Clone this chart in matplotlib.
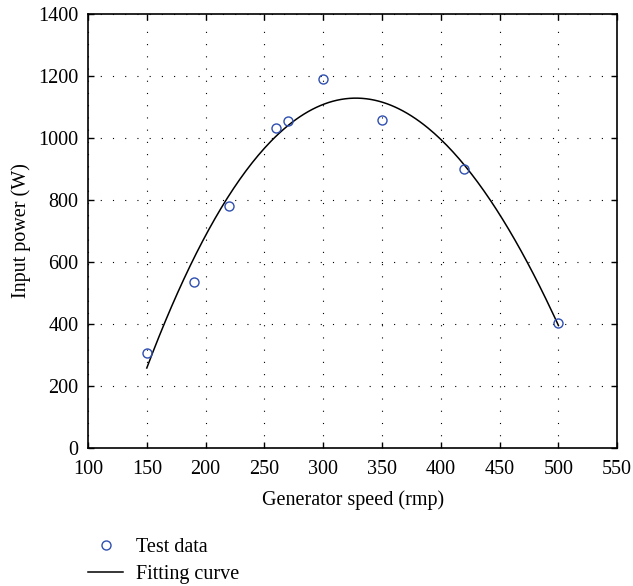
import numpy as np
import matplotlib
matplotlib.use('Agg')
import matplotlib.pyplot as plt

# test data
speed = [150, 190, 220, 260, 270, 300, 350, 420, 500]
power = [305, 535, 780, 1033, 1055, 1190, 1057, 901, 404]

x_ticks = [100, 150, 200, 250, 300, 350, 400, 450, 500, 550]
y_ticks = [0, 200, 400, 600, 800, 1000, 1200, 1400]

plt.rcParams['font.family'] = ['Liberation Serif', 'DejaVu Serif']
plt.rcParams['font.size'] = 14.5

# cubic least-squares fit of the test data
coef = np.polyfit(speed, power, 3)
fit_x = np.linspace(150, 500, 200)
fit_y = np.polyval(coef, fit_x)

fig = plt.figure(figsize=(6.33, 5.86), dpi=100)
ax = fig.add_axes([0.139, 0.2355, 0.836, 0.741])

ax.plot(speed, power, 'o', mfc='none', mec='#2f4fb0', mew=1.0, ms=6.5,
        label='Test data', zorder=3)
ax.plot(fit_x, fit_y, color='black', lw=1.1, label='Fitting curve')

ax.set_xlim(100, 550)
ax.set_ylim(0, 1400)
ax.set_xticks(x_ticks)
ax.set_yticks(y_ticks)
ax.tick_params(direction='in', top=True, right=True, length=4, width=1)
ax.tick_params(axis='x', pad=9)
ax.tick_params(axis='y', pad=7)
ax.grid(True, color='black', lw=0.8, linestyle=(0, (1, 10)))
for s in ax.spines.values():
    s.set_linewidth(1.2)

ax.set_xlabel('Generator speed (rmp)', labelpad=8)
ax.set_ylabel('Input power (W)', labelpad=5)

fig.legend(loc='upper left', bbox_to_anchor=(0.139, 0.082), frameon=False,
           handlelength=1.75, handletextpad=0.65, labelspacing=0.4,
           borderaxespad=0, borderpad=0)

fig.savefig('out.png', dpi=100)
